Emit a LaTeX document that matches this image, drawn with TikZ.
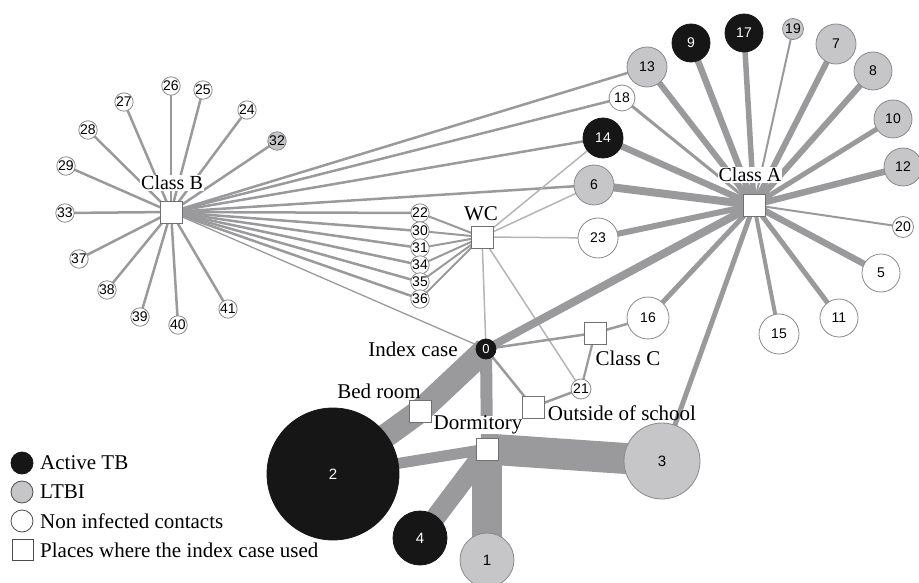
\documentclass[tikz,border=0pt]{standalone}
\usepackage{fontspec}
\setmainfont{Liberation Serif}
\newfontfamily\numfont{Liberation Sans}
\definecolor{eg}{HTML}{9A9A9C}
\definecolor{egl}{HTML}{B4B4B6}
\definecolor{ndgrey}{HTML}{8A8A8C}
\definecolor{ltgrey}{HTML}{C6C6C8}
\definecolor{actblack}{HTML}{161616}
\definecolor{boxgrey}{HTML}{707070}
\pgfdeclarelayer{edgelayer}
\pgfsetlayers{edgelayer,main}
\begin{document}
\begin{tikzpicture}[x=1pt,y=-1pt,
  person/.style={circle, inner sep=0pt, draw=ndgrey, line width=0.8pt, font=\numfont\fontsize{14}{14}\selectfont},
  act/.style={person, fill=actblack, draw=actblack, text=white},
  ltbi/.style={person, fill=ltgrey},
  non/.style={person, fill=white},
  rad/.style={minimum size=#1*2pt},
  sm/.style={minimum size=18pt, font=\numfont\fontsize{14}{14}\selectfont},
  big/.style={font=\numfont\fontsize{15}{15}\selectfont},
  place/.style={rectangle, draw=boxgrey, fill=white, line width=0.9pt, minimum size=22pt, inner sep=0pt},
  lbl/.style={font=\fontsize{21}{21}\selectfont, inner sep=1pt},
  ew/.style={draw=eg, line width=#1},
  ewl/.style={draw=egl, line width=#1},
]
\useasboundingbox (0,0) rectangle (919,583);
% ---- places
\node[place] (CB) at (171,212) {};
\node[place] (WC) at (482,237) {};
\node[place] (CA) at (754,205) {};
\node[place] (CC) at (595,333) {};
\node[place] (OS) at (533,407) {};
\node[place] (BR) at (420,411) {};
\node[place] (DM) at (487,449) {};
% ---- Class B cluster
\node[non,sm] (n26) at (171,86) {26};
\node[non,sm] (n25) at (203,90) {25};
\node[non,sm] (n27) at (124,102) {27};
\node[non,sm] (n24) at (247,110) {24};
\node[non,sm] (n28) at (88,130) {28};
\node[ltbi,sm] (n32) at (277,141) {32};
\node[non,sm] (n29) at (66,166) {29};
\node[non,sm] (n33) at (65,213) {33};
\node[non,sm] (n37) at (79,259) {37};
\node[non,sm] (n38) at (107,290) {38};
\node[non,sm] (n39) at (140,317) {39};
\node[non,sm] (n40) at (178,325) {40};
\node[non,sm] (n41) at (228,309) {41};
% ---- column
\node[non,sm] (n22) at (420,213) {22};
\node[non,sm] (n30) at (420,231) {30};
\node[non,sm] (n31) at (420,248) {31};
\node[non,sm] (n34) at (420,265) {34};
\node[non,sm] (n35) at (420,282) {35};
\node[non,sm] (n36) at (420,299) {36};
% ---- Class A cluster
\node[ltbi,rad=20] (n13) at (647,67) {13};
\node[act,rad=19] (n9) at (691,43) {9};
\node[act,rad=19] (n17) at (744,33) {17};
\node[ltbi,sm,rad=10.5] (n19) at (793,29) {19};
\node[ltbi,rad=20] (n7) at (836,44) {7};
\node[ltbi,rad=19] (n8) at (873,71) {8};
\node[ltbi,rad=19] (n10) at (893,119) {10};
\node[ltbi,rad=19] (n12) at (903,167) {12};
\node[non,sm,rad=10.5] (n20) at (903,227) {20};
\node[non,rad=19] (n5) at (881,273) {5};
\node[non,rad=19] (n11) at (839,318) {11};
\node[non,rad=20] (n15) at (779,334) {15};
\node[non,rad=21] (n16) at (648,318) {16};
\node[non,rad=20] (n23) at (598,238) {23};
\node[ltbi,rad=20] (n6) at (594,185) {6};
\node[act,rad=20] (n14) at (603,138) {14};
\node[non,rad=13] (n18) at (622,98) {18};
% ---- lower part
\node[act,rad=10,font=\numfont\fontsize{13}{13}\selectfont] (n0) at (486,349) {0};
\node[non,sm,rad=10] (n21) at (581,389) {21};
\node[act,big,rad=66] (n2) at (333,474) {2};
\node[ltbi,big,rad=38] (n3) at (662,461) {3};
\node[act,big,rad=27] (n4) at (420,538) {4};
\node[ltbi,big,rad=27] (n1) at (487,560) {1};
% ---- labels
\node[lbl,fill=white,font=\fontsize{20}{20}\selectfont] (lCB) at (172,183) {Class B};
\node[lbl] (lWC) at (481,214) {WC};
\node[lbl,fill=white,font=\fontsize{20}{20}\selectfont] (lCA) at (750,175) {Class A};
\node[lbl] (lIC) at (413,349) {Index case};
\node[lbl] (lCC) at (628,358) {Class C};
\node[lbl] (lBR) at (379,391) {Bed room};
\node[lbl,fill=white,inner sep=0pt] (lDM) at (478,425) {Dormitory};
\node[lbl] (lOS) at (622,413) {Outside of school};
% ---- legend
\node[act,rad=11] (gA) at (22,463) {};
\node[ltbi,rad=11,draw=black!70] (gL) at (22,492) {};
\node[non,rad=11,draw=black!70] (gN) at (22,521) {};
\node[place,minimum size=21pt,draw=black!70] (gP) at (22.5,550) {};
\node[lbl,anchor=west] (tA) at (39,463) {Active TB};
\node[lbl,anchor=west] (tL) at (39,492) {LTBI};
\node[lbl,anchor=west] (tN) at (39,521) {Non infected contacts};
\node[lbl,anchor=west] (tP) at (39,550) {Places where the index case used};
% ---- edges
\begin{pgfonlayer}{edgelayer}
\foreach \n in {n26,n25,n27,n24,n28,n32,n29,n33,n37,n38,n39,n40,n41}
  \draw[ew=2.5] (CB.center) -- (\n.center);
\foreach \n in {n13,n18,n14,n6,n22,n30,n31,n34,n35,n36}
  \draw[ew=2.5] (CB.center) -- (\n.center);
\draw[ew=1.3] (CB.center) -- (n0.center);
\foreach \n in {n22,n30,n31,n34,n35,n36}
  \draw[ew=2] (WC.center) -- (\n.center);
\foreach \n in {n6,n14,n23,n0,n21}
  \draw[ewl=1.5] (WC.center) -- (\n.center);
% Class A
\draw[ew=6] (CA.center) -- (n13.center);
\draw[ew=6.5] (CA.center) -- (n9.center);
\draw[ew=5.5] (CA.center) -- (n17.center);
\draw[ew=2] (CA.center) -- (n19.center);
\draw[ew=6] (CA.center) -- (n7.center);
\draw[ew=6] (CA.center) -- (n8.center);
\draw[ew=5] (CA.center) -- (n10.center);
\draw[ew=6.5] (CA.center) -- (n12.center);
\draw[ew=2] (CA.center) -- (n20.center);
\draw[ew=6.5] (CA.center) -- (n5.center);
\draw[ew=5] (CA.center) -- (n11.center);
\draw[ew=4] (CA.center) -- (n15.center);
\draw[ew=5] (CA.center) -- (n16.center);
\draw[ew=6] (CA.center) -- (n23.center);
\draw[ew=8] (CA.center) -- (n6.center);
\draw[ew=6.5] (CA.center) -- (n14.center);
\draw[ew=3] (CA.center) -- (n18.center);
\draw[ew=5] (CA.center) -- (n3.center);
\draw[ew=8] (CA.center) -- (n0.center);
% lower
\draw[ew=2.5] (n0.center) -- (CC.center);
\draw[ew=2.5] (CC.center) -- (n16.center);
\draw[ew=2.2] (CC.center) -- (n21.center);
\draw[ew=2.5] (n0.center) -- (OS.center);
\draw[ew=2.5] (OS.center) -- (n21.center);
\draw[ew=24] (n0.center) -- (BR.center);
\draw[ew=24] (BR.center) -- (n2.center);
\draw[ew=12] (n0.center) -- (DM.center);
\draw[ew=11] (DM.center) -- (n2.center);
\draw[ew=31] (DM.center) -- (n3.center);
\draw[ew=20] (DM.center) -- (n4.center);
\draw[ew=30] (DM.center) -- (n1.center);
\end{pgfonlayer}
\end{tikzpicture}
\end{document}
